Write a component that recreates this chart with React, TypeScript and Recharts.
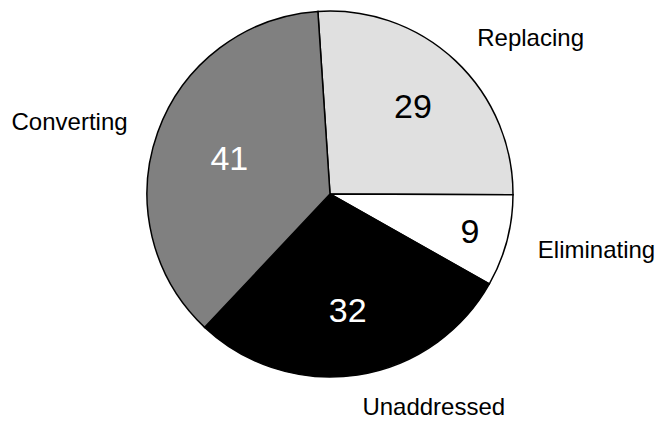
import { PieChart, Pie, Cell } from "recharts";

const categories = ["Replacing", "Eliminating", "Unaddressed", "Converting"];
const values = [29, 9, 32, 41];
const fills = ["#e0e0e0", "#ffffff", "#000000", "#808080"];
const valueColors = ["#000000", "#000000", "#ffffff", "#ffffff"];

const data = categories.map((name, i) => ({ name, value: values[i] }));

const RAD = Math.PI / 180;

function renderLabel(props: any) {
  const { cx, cy, midAngle, outerRadius, startAngle, endAngle, index } = props;
  const cos = Math.cos(-midAngle * RAD);
  const sin = Math.sin(-midAngle * RAD);
  // narrow slices get their number pushed further out
  const span = Math.abs(endAngle - startAngle);
  const rIn = outerRadius * (0.85 - 0.002 * span);
  const rOut = outerRadius + 32;
  return (
    <g>
      <text
        x={cx + rIn * cos}
        y={cy + rIn * sin}
        fill={valueColors[index]}
        textAnchor="middle"
        dominantBaseline="central"
        fontSize={34}
      >
        {values[index]}
      </text>
      <text
        x={cx + rOut * cos}
        y={cy + rOut * sin}
        fill="#000"
        textAnchor={cos >= 0 ? "start" : "end"}
        dominantBaseline="central"
        fontSize={24}
      >
        {categories[index]}
      </text>
    </g>
  );
}

export default function App() {
  return (
    <div
      style={{
        position: "absolute",
        left: 0,
        top: 0,
        width: 660,
        height: 423,
        background: "#fff",
        fontFamily: "'Liberation Sans', Arial, sans-serif",
      }}
    >
      <PieChart
        width={660}
        height={423}
        margin={{ top: 0, right: 0, bottom: 0, left: 0 }}
      >
        <Pie
          data={data}
          dataKey="value"
          nameKey="name"
          cx={330}
          cy={194}
          outerRadius={183}
          startAngle={93.8}
          endAngle={-266.2}
          stroke="#000"
          strokeWidth={1.5}
          label={renderLabel}
          labelLine={false}
          isAnimationActive={false}
        >
          {data.map((d, i) => (
            <Cell key={d.name} fill={fills[i]} />
          ))}
        </Pie>
      </PieChart>
    </div>
  );
}
